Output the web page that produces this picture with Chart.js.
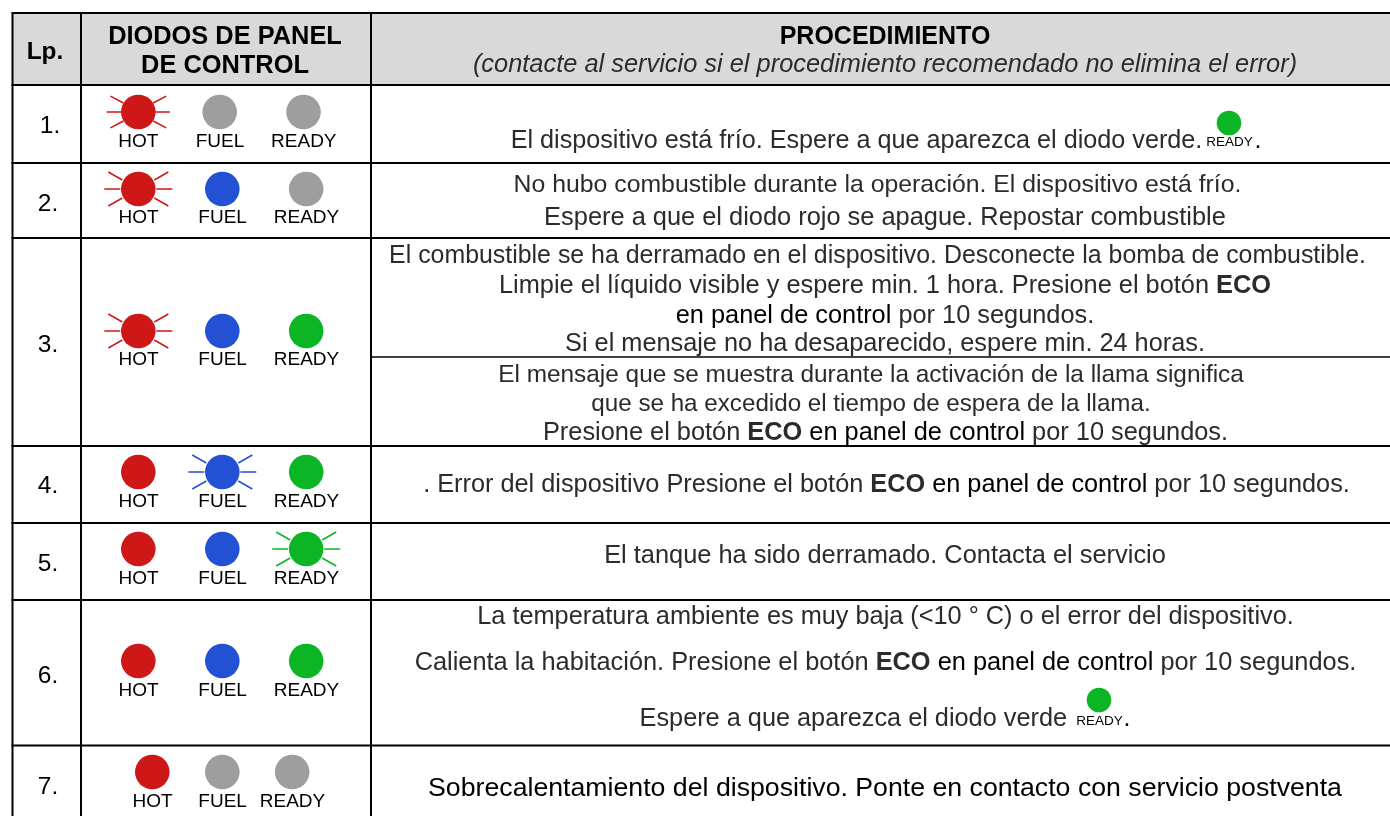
<!DOCTYPE html>
<html>
<head>
<meta charset="utf-8">
<title>Diodos de panel de control</title>
<script src="https://cdn.jsdelivr.net/npm/chart.js@4"></script>
<style>
  html, body { margin: 0; padding: 0; background: #fff; overflow: hidden; }
  canvas { display: block; }
</style>
</head>
<body>
<canvas id="myChart" width="1390" height="816"></canvas>
<script>
'use strict'

// table content
var rowNumbers = ['1.', '2.', '3.', '4.', '5.', '6.', '7.'];
var diodeNames = ['HOT', 'FUEL', 'READY'];
var headLp = 'Lp.';
var headDiodes = ['DIODOS DE PANEL', 'DE CONTROL'];
var headProcedure = 'PROCEDIMIENTO';
var headNote = '(contacte al servicio si el procedimiento recomendado no elimina el error)';

// diode state per row: 0 off, 1 lit, 2 blinking
var hotStates = [2, 2, 2, 1, 1, 1, 1];
var fuelStates = [0, 1, 1, 2, 1, 1, 0];
var readyStates = [0, 0, 1, 1, 2, 1, 0];

// '|' splits runs, '*' = bold, '#' = black
var procedureLines = [
    'El dispositivo está frío. Espere a que aparezca el diodo verde.',
    'No hubo combustible durante la operación. El dispositivo está frío.',
    'Espere a que el diodo rojo se apague. Repostar combustible',
    'El combustible se ha derramado en el dispositivo. Desconecte la bomba de combustible.',
    'Limpie el líquido visible y espere min. 1 hora. Presione el botón |*ECO',
    '#en panel de control| por 10 segundos.',
    'Si el mensaje no ha desaparecido, espere min. 24 horas.',
    'El mensaje que se muestra durante la activación de la llama significa',
    'que se ha excedido el tiempo de espera de la llama.',
    'Presione el botón |*ECO| |#en panel de control| por 10 segundos.',
    '. Error del dispositivo Presione el botón |*ECO| |#en panel de control| por 10 segundos.',
    'El tanque ha sido derramado. Contacta el servicio',
    'La temperatura ambiente es muy baja (<10 ° C) o el error del dispositivo.',
    'Calienta la habitación. Presione el botón |*ECO| |#en panel de control| por 10 segundos.',
    'Espere a que aparezca el diodo verde',
    '#Sobrecalentamiento del dispositivo. Ponte en contacto con servicio postventa'
];

// layout only, page pixels
var layout = {
    hLines: [13, 85, 163, 238, 446, 523, 600, 745.5],
    vLines: [12.5, 81, 371],
    splitY: 357,
    rowY: [112, 189, 331, 472, 549, 661, 772],
    rowTextY: [146.7, 223, 365, 506.7, 583.7, 695.7, 806.7],
    numberY: [133, 211, 352, 493, 570.7, 682.7, 794.3],
    ledX: [
        [138.3, 219.7, 303.5],
        [138.3, 222.3, 306.2],
        [138.3, 222.3, 306.2],
        [138.3, 222.3, 306.2],
        [138.3, 222.3, 306.2],
        [138.3, 222.3, 306.2],
        [152.3, 222.3, 292.2]
    ],
    lineX: [856.5, 877.5, 885, 877.5, 885, 885, 885, 871, 871, 885.5, 886.5, 885, 885.5, 885.5, 853.3, 885],
    lineY: [148, 191.5, 225, 263, 293, 323, 351, 382, 411, 440, 492, 563, 624, 670, 726, 796],
    lineSize: [25.2, 24.8, 25.4, 24.9, 25.35, 25.35, 25.3, 24.4, 24.2, 25.36, 25.3, 25.4, 25.3, 25.37, 25.3, 26.7],
    inlineLed: [[1229, 123], [1099, 700]],
    inlineLabel: [[1229.5, 146], [1099.5, 724.5]],
    inlineDot: [[1258, 148], [1127, 726]]
};

var stateColors = {
    HOT: ['#9e9e9e', '#ce1717', '#ce1717'],
    FUEL: ['#9e9e9e', '#2451d4', '#2451d4'],
    READY: ['#9e9e9e', '#0bb524', '#0bb524']
};
var bodyColor = '#2b2b2b';
var bodyFont = 'Liberation Sans, Arial, sans-serif';

function diodeDataset(name, index, states) {
    return {
        label: name,
        data: states.map(function (s, row) {
            return { x: layout.ledX[row][index], y: layout.rowY[row], state: s };
        }),
        backgroundColor: states.map(function (s) { return stateColors[name][s]; }),
        pointRadius: 17.3,
        pointBorderWidth: 0,
        showLine: false
    };
}

var datasets = [
    diodeDataset('HOT', 0, hotStates),
    diodeDataset('FUEL', 1, fuelStates),
    diodeDataset('READY', 2, readyStates),
    {
        label: 'READY inline',
        data: layout.inlineLed.map(function (p) { return { x: p[0], y: p[1], state: 1 }; }),
        backgroundColor: stateColors.READY[1],
        pointRadius: 12.3,
        pointBorderWidth: 0,
        showLine: false
    }
];

function drawCenter(ctx, text, x, y, font, color) {
    ctx.font = font;
    ctx.fillStyle = color;
    ctx.textAlign = 'center';
    ctx.fillText(text, x, y);
}

function drawRuns(ctx, line, cx, y, size) {
    var runs = line.split('|').map(function (r) {
        var bold = r[0] == '*', black = r[0] == '#';
        return {
            text: bold || black ? r.slice(1) : r,
            font: (bold ? 'bold ' : '') + size + 'px ' + bodyFont,
            color: black ? '#000' : bodyColor
        };
    });
    var total = 0;
    runs.forEach(function (r) {
        ctx.font = r.font;
        r.w = ctx.measureText(r.text).width;
        total += r.w;
    });
    var x = cx - total / 2;
    ctx.textAlign = 'left';
    runs.forEach(function (r) {
        ctx.font = r.font;
        ctx.fillStyle = r.color;
        ctx.fillText(r.text, x, y);
        x += r.w;
    });
}

// grid and header go under the diodes
var tablePlugin = {
    id: 'tablePlugin',
    beforeDatasetsDraw: function (chart) {
        var ctx = chart.ctx;
        var h = layout.hLines, v = layout.vLines;
        ctx.save();
        ctx.fillStyle = '#d9d9d9';
        ctx.fillRect(v[0], h[0], 1390 - v[0], h[1] - h[0]);
        ctx.strokeStyle = '#000';
        ctx.lineWidth = 2;
        h.forEach(function (y) {
            ctx.beginPath();
            ctx.moveTo(v[0] - 1, y);
            ctx.lineTo(1390, y);
            ctx.stroke();
        });
        v.forEach(function (x) {
            ctx.beginPath();
            ctx.moveTo(x, h[0]);
            ctx.lineTo(x, 816);
            ctx.stroke();
        });
        ctx.lineWidth = 1.5;
        ctx.beginPath();
        ctx.moveTo(v[2], layout.splitY);
        ctx.lineTo(1390, layout.splitY);
        ctx.stroke();
        ctx.restore();
    },
    afterDatasetsDraw: function (chart) {
        var ctx = chart.ctx;
        ctx.save();
        ctx.textBaseline = 'alphabetic';

        // rays around blinking diodes, taken from the drawn points
        [0, 1, 2].forEach(function (d) {
            chart.getDatasetMeta(d).data.forEach(function (pt, i) {
                if (chart.data.datasets[d].data[i].state != 2) return;
                var k = i == 0 ? 0.93 : 1;
                ctx.strokeStyle = stateColors[diodeNames[d]][2];
                ctx.lineWidth = 1.5;
                [[18, 0, 34, 0], [-18, 0, -34, 0], [16, -9, 30, -17], [-16, -9, -30, -17], [16, 9, 30, 17], [-16, 9, -30, 17]].forEach(function (r) {
                    ctx.beginPath();
                    ctx.moveTo(pt.x + r[0] * k, pt.y + r[1]);
                    ctx.lineTo(pt.x + r[2] * k, pt.y + r[3] * k);
                    ctx.stroke();
                });
            });
        });

        // headers
        drawCenter(ctx, headLp, 45, 59, 'bold 24.4px ' + bodyFont, '#000');
        drawCenter(ctx, headDiodes[0], 225, 44, 'bold 25.4px ' + bodyFont, '#000');
        drawCenter(ctx, headDiodes[1], 225, 73, 'bold 25.4px ' + bodyFont, '#000');
        drawCenter(ctx, headProcedure, 885, 44, 'bold 25px ' + bodyFont, '#000');
        drawCenter(ctx, headNote, 885, 72, 'italic 25.4px ' + bodyFont, '#2b2b2b');

        // row numbers and diode names
        rowNumbers.forEach(function (n, row) {
            drawCenter(ctx, n, row == 0 ? 50 : 48, layout.numberY[row], '24.5px ' + bodyFont, '#000');
            diodeNames.forEach(function (name, d) {
                var shift = row == 0 ? (d == 0 ? 0 : 0.3) : 0.3;
                drawCenter(ctx, name, layout.ledX[row][d] + shift, layout.rowTextY[row], '19px ' + bodyFont, '#000');
            });
        });

        // procedure text
        procedureLines.forEach(function (line, i) {
            drawRuns(ctx, line, layout.lineX[i], layout.lineY[i], layout.lineSize[i]);
        });

        // small READY diode captions and their full stops
        layout.inlineLabel.forEach(function (p, i) {
            drawCenter(ctx, diodeNames[2], p[0], p[1], '13.5px ' + bodyFont, '#000');
            drawCenter(ctx, '.', layout.inlineDot[i][0], layout.inlineDot[i][1], '25px ' + bodyFont, '#000');
        });
        ctx.restore();
    }
};

var myChart = new Chart(document.getElementById('myChart').getContext('2d'), {
    type: 'scatter',
    data: { datasets: datasets },
    options: {
        responsive: false,
        animation: false,
        layout: { padding: 0, autoPadding: false },
        plugins: { legend: { display: false }, tooltip: { enabled: false } },
        scales: {
            x: { type: 'linear', display: false, min: 0, max: 1390 },
            y: { type: 'linear', display: false, min: 0, max: 816, reverse: true }
        }
    },
    plugins: [tablePlugin]
});
</script>
</body>
</html>
